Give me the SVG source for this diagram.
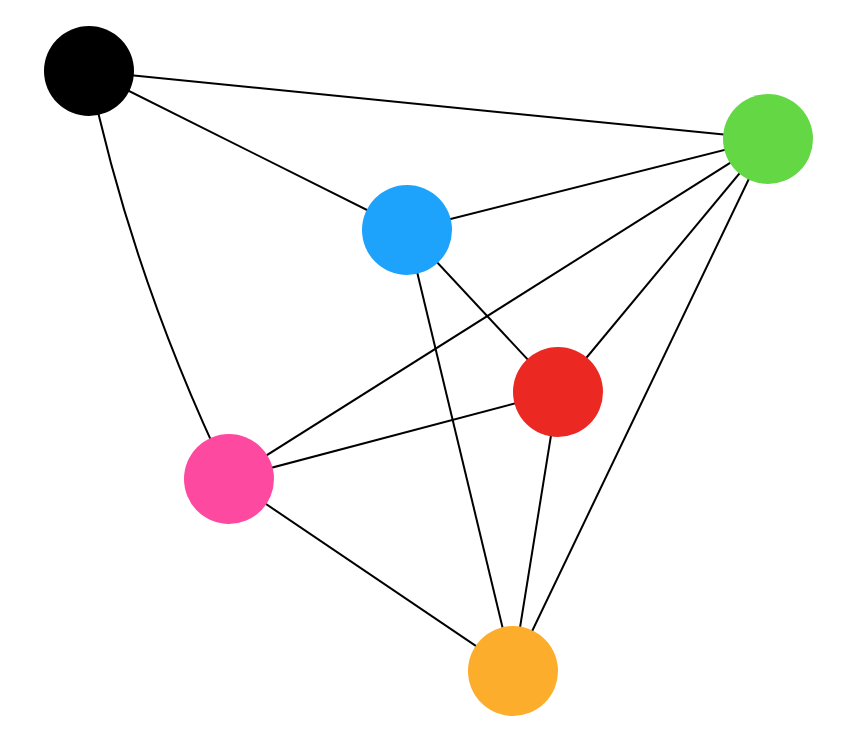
<svg xmlns="http://www.w3.org/2000/svg" width="846" height="738" viewBox="0 0 846 738">
<style>
.e{stroke:#000;stroke-width:2;fill:none}
</style>
<rect width="846" height="738" fill="#fff"/>
<g id="edges">
<line class="e" x1="89" y1="71" x2="768" y2="139"/>
<line class="e" x1="89" y1="71" x2="407" y2="230"/>
<path class="e" d="M89,71 Q131.7,276.4 229,479"/>
<line class="e" x1="768" y1="139" x2="407" y2="230"/>
<line class="e" x1="768" y1="139" x2="229" y2="479"/>
<line class="e" x1="768" y1="139" x2="558" y2="392"/>
<line class="e" x1="768" y1="139" x2="513" y2="671"/>
<line class="e" x1="407" y1="230" x2="558" y2="392"/>
<line class="e" x1="407" y1="230" x2="513" y2="671"/>
<line class="e" x1="229" y1="479" x2="558" y2="392"/>
<line class="e" x1="229" y1="479" x2="513" y2="671"/>
<line class="e" x1="558" y1="392" x2="513" y2="671"/>
</g>
<g id="black"><circle cx="89" cy="71" r="45" fill="#000"/></g>
<g id="green"><circle cx="768" cy="139" r="45" fill="#63d744"/></g>
<g id="blue"><circle cx="407" cy="230" r="45" fill="#1ea3fd"/></g>
<g id="red"><circle cx="558" cy="392" r="45" fill="#ec2822"/></g>
<g id="pink"><circle cx="229" cy="479" r="45" fill="#fd4aa0"/></g>
<g id="orange"><circle cx="513" cy="671" r="45" fill="#fcad2b"/></g>
</svg>
